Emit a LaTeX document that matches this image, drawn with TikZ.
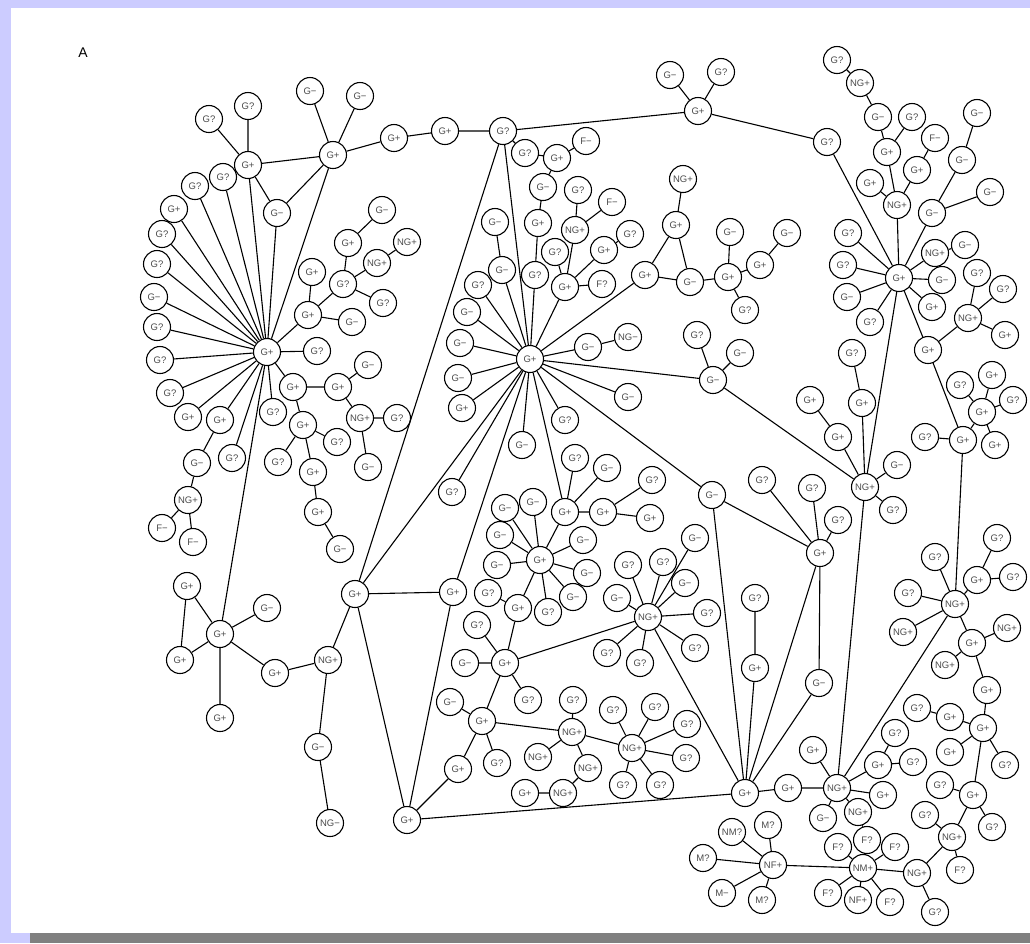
\documentclass[tikz,border=0pt]{standalone}
\usepackage{fontspec}
\setmainfont{Liberation Sans}
\usepackage{tikz}
\definecolor{frame}{RGB}{204,204,255}
\definecolor{bar}{RGB}{128,128,128}

\begin{document}
\begin{tikzpicture}[x=1pt,y=-1pt,
  cell/.style={circle,draw,line width=1.1pt,minimum size=27pt,inner sep=0pt,
    font=\fontsize{9.5}{10}\selectfont,text=black!70},
  link/.style={line width=1.1pt}]
  \useasboundingbox (0,0) rectangle (1030,943);
  \fill[frame] (0,0) rectangle (1030,943);
  \fill[white] (11,8) rectangle (1030,933);
  \fill[bar] (30,933) rectangle (1030,943);
  \node[font=\fontsize{14}{14}\selectfont] (panel) at (83,53) {A};
  % left top
  \node[cell] (a1) at (248,165) {G+};
  \node[cell] (a2) at (333,155) {G+};
  \node[cell] (a3) at (209,119) {G?};
  \node[cell] (a4) at (248,106) {G?};
  \node[cell] (a5) at (310,91) {G−};
  \node[cell] (a6) at (360,96) {G−};
  \node[cell] (a7) at (277,213) {G−};
  \node[cell] (a8) at (394,138) {G+};
  \node[cell] (a9) at (445,131) {G+};
  \node[cell] (hB) at (503,131) {G?};
  % left hub
  \node[cell] (hC) at (267,352) {G+};
  \node[cell] (c1) at (174,209) {G+};
  \node[cell] (c2) at (195,186) {G?};
  \node[cell] (c3) at (223,177) {G?};
  \node[cell] (c4) at (162,234) {G?};
  \node[cell] (c5) at (157,264) {G?};
  \node[cell] (c6) at (154,297) {G−};
  \node[cell] (c7) at (157,327) {G?};
  \node[cell] (c8) at (160,360) {G?};
  \node[cell] (c9) at (170,393) {G?};
  \node[cell] (c10) at (188,417) {G+};
  \node[cell] (c11) at (220,420) {G+};
  \node[cell] (c12) at (232,458) {G?};
  \node[cell] (c13) at (317,351) {G?};
  \node[cell] (c14) at (273,412) {G?};
  \node[cell] (c15) at (308,315) {G+};
  \node[cell] (c16) at (352,322) {G−};
  \node[cell] (c17) at (343,284) {G?};
  \node[cell] (c18) at (312,272) {G+};
  \node[cell] (c19) at (348,243) {G+};
  \node[cell] (c20) at (382,210) {G−};
  \node[cell] (c21) at (377,263) {NG+};
  \node[cell] (c22) at (407,242) {NG+};
  \node[cell] (c23) at (383,303) {G?};
  \node[cell] (c24) at (293,387) {G+};
  \node[cell] (c25) at (338,387) {G+};
  \node[cell] (c26) at (368,365) {G−};
  \node[cell] (c27) at (360,418) {NG+};
  \node[cell] (c28) at (397,418) {G?};
  \node[cell] (c29) at (368,467) {G−};
  \node[cell] (c30) at (303,425) {G+};
  \node[cell] (c31) at (337,442) {G?};
  \node[cell] (c32) at (278,462) {G?};
  \node[cell] (c33) at (313,472) {G+};
  \node[cell] (c34) at (318,512) {G+};
  \node[cell] (c35) at (340,549) {G−};
  \node[cell] (c36) at (197,463) {G−};
  \node[cell] (c37) at (188,500) {NG+};
  \node[cell] (c38) at (162,528) {F−};
  \node[cell] (c39) at (193,542) {F−};
  % left bottom
  \node[cell] (hL) at (220,634) {G+};
  \node[cell] (l1) at (187,586) {G+};
  \node[cell] (l2) at (180,660) {G+};
  \node[cell] (l3) at (267,608) {G−};
  \node[cell] (l4) at (275,673) {G+};
  \node[cell] (l5) at (220,718) {G+};
  \node[cell] (l6) at (328,660) {NG+};
  \node[cell] (l7) at (318,747) {G−};
  \node[cell] (l8) at (330,823) {NG−};
  \node[cell] (m1) at (355,594) {G+};
  \node[cell] (m2) at (453,592) {G+};
  \node[cell] (m3) at (407,820) {G+};
  \node[cell] (m4) at (458,769) {G+};
  % centre hub
  \node[cell] (hD) at (530,359) {G+};
  \node[cell] (d1) at (467,312) {G−};
  \node[cell] (d2) at (460,343) {G−};
  \node[cell] (d3) at (458,378) {G−};
  \node[cell] (d4) at (462,408) {G+};
  \node[cell] (d5) at (588,347) {G−};
  \node[cell] (d6) at (628,337) {NG−};
  \node[cell] (d7) at (628,397) {G−};
  \node[cell] (d8) at (565,420) {G?};
  \node[cell] (d9) at (522,445) {G−};
  \node[cell] (d10) at (452,492) {G?};
  \node[cell] (d11) at (478,285) {G?};
  \node[cell] (d12) at (502,270) {G−};
  \node[cell] (d13) at (495,222) {G−};
  \node[cell] (d14) at (535,275) {G?};
  \node[cell] (d15) at (538,223) {G+};
  \node[cell] (d16) at (543,187) {G−};
  \node[cell] (d17) at (557,158) {G+};
  \node[cell] (d18) at (525,153) {G?};
  \node[cell] (d19) at (586,141) {F−};
  \node[cell] (d20) at (565,287) {G+};
  \node[cell] (d21) at (602,284) {F?};
  \node[cell] (d22) at (575,230) {NG+};
  \node[cell] (d23) at (578,190) {G?};
  \node[cell] (d24) at (612,202) {F−};
  \node[cell] (d25) at (555,252) {G?};
  \node[cell] (d26) at (604,250) {G+};
  \node[cell] (d27) at (630,234) {G?};
  \node[cell] (d28) at (645,275) {G+};
  \node[cell] (d29) at (676,225) {G+};
  \node[cell] (d30) at (683,179) {NG+};
  \node[cell] (d31) at (690,282) {G−};
  \node[cell] (d32) at (728,277) {G+};
  \node[cell] (d33) at (730,232) {G−};
  \node[cell] (d34) at (760,265) {G+};
  \node[cell] (d35) at (787,233) {G−};
  \node[cell] (d36) at (745,310) {G?};
  \node[cell] (e0) at (713,380) {G−};
  \node[cell] (e1) at (697,335) {G?};
  \node[cell] (e2) at (740,353) {G−};
  % right top
  \node[cell] (t0) at (698,111) {G+};
  \node[cell] (t1) at (670,75) {G−};
  \node[cell] (t2) at (721,72) {G?};
  \node[cell] (r1) at (827,142) {G?};
  \node[cell] (hE) at (899,278) {G+};
  \node[cell] (r2) at (837,60) {G?};
  \node[cell] (r3) at (860,83) {NG+};
  \node[cell] (r4) at (878,117) {G−};
  \node[cell] (r5) at (887,152) {G+};
  \node[cell] (r6) at (912,117) {G?};
  \node[cell] (r7) at (897,205) {NG+};
  \node[cell] (r8) at (935,138) {F−};
  \node[cell] (r9) at (917,170) {G+};
  \node[cell] (r10) at (870,183) {G+};
  \node[cell] (r11) at (977,113) {G−};
  \node[cell] (r12) at (962,160) {G−};
  \node[cell] (r13) at (932,213) {G−};
  \node[cell] (r14) at (990,192) {G−};
  \node[cell] (r15) at (935,253) {NG+};
  \node[cell] (r16) at (965,245) {G−};
  \node[cell] (r17) at (942,280) {G−};
  \node[cell] (r18) at (848,233) {G?};
  \node[cell] (r19) at (843,265) {G?};
  \node[cell] (r20) at (847,297) {G−};
  \node[cell] (r21) at (870,322) {G?};
  \node[cell] (r22) at (932,307) {G+};
  \node[cell] (r23) at (977,273) {G?};
  \node[cell] (r24) at (1003,289) {G?};
  \node[cell] (r25) at (968,318) {NG+};
  \node[cell] (r26) at (1005,335) {G+};
  \node[cell] (r27) at (928,350) {G+};
  \node[cell] (q0) at (963,440) {G+};
  \node[cell] (q1) at (925,437) {G?};
  \node[cell] (q2) at (982,412) {G+};
  \node[cell] (q3) at (960,385) {G?};
  \node[cell] (q4) at (992,375) {G+};
  \node[cell] (q5) at (1013,400) {G?};
  \node[cell] (q6) at (995,445) {G+};
  \node[cell] (n0) at (865,487) {NG+};
  \node[cell] (n1) at (862,403) {G+};
  \node[cell] (n2) at (852,353) {G?};
  \node[cell] (n3) at (838,437) {G+};
  \node[cell] (n4) at (810,400) {G+};
  \node[cell] (n5) at (897,465) {G−};
  \node[cell] (n6) at (893,510) {G?};
  % right middle
  \node[cell] (hH) at (820,553) {G+};
  \node[cell] (h1) at (838,520) {G?};
  \node[cell] (h2) at (812,488) {G?};
  \node[cell] (h3) at (762,480) {G?};
  \node[cell] (h4) at (712,495) {G−};
  \node[cell] (h5) at (819,683) {G−};
  \node[cell] (h6) at (755,598) {G?};
  \node[cell] (h7) at (755,668) {G+};
  \node[cell] (p0) at (955,604) {NG+};
  \node[cell] (p1) at (908,593) {G?};
  \node[cell] (p2) at (935,557) {G?};
  \node[cell] (p3) at (903,632) {NG+};
  \node[cell] (p4) at (977,580) {G+};
  \node[cell] (p5) at (972,643) {G+};
  \node[cell] (p6) at (997,538) {G?};
  \node[cell] (p7) at (1013,577) {G?};
  \node[cell] (p8) at (1007,628) {NG+};
  \node[cell] (p9) at (945,665) {NG+};
  % right bottom
  \node[cell] (s11) at (987,690) {G+};
  \node[cell] (s6) at (983,728) {G+};
  \node[cell] (s9) at (950,717) {G+};
  \node[cell] (s10) at (917,708) {G?};
  \node[cell] (s7) at (950,752) {G+};
  \node[cell] (s8) at (1005,765) {G?};
  \node[cell] (s3) at (973,795) {G+};
  \node[cell] (s4) at (940,785) {G?};
  \node[cell] (s5) at (992,827) {G?};
  \node[cell] (s0) at (952,837) {NG+};
  \node[cell] (s1) at (925,815) {G?};
  \node[cell] (s2) at (960,870) {F?};
  \node[cell] (g16) at (917,873) {NG+};
  \node[cell] (g17) at (935,912) {G?};
  \node[cell] (hG) at (745,793) {G+};
  \node[cell] (g1) at (788,788) {G+};
  \node[cell] (g2) at (837,788) {NG+};
  \node[cell] (g3) at (813,750) {G+};
  \node[cell] (g4) at (878,765) {G+};
  \node[cell] (g5) at (895,733) {G?};
  \node[cell] (g6) at (913,762) {G?};
  \node[cell] (g7) at (883,795) {G+};
  \node[cell] (g8) at (823,818) {G−};
  \node[cell] (g9) at (858,812) {NG+};
  \node[cell] (g10) at (867,840) {F?};
  \node[cell] (g11) at (838,847) {F?};
  \node[cell] (g12) at (895,847) {F?};
  \node[cell] (nm) at (863,868) {NM+};
  \node[cell] (g13) at (828,893) {F?};
  \node[cell] (g14) at (858,900) {NF+};
  \node[cell] (g15) at (890,902) {F?};
  \node[cell] (nf) at (773,865) {NF+};
  \node[cell] (f1) at (768,825) {M?};
  \node[cell] (f2) at (732,832) {NM?};
  \node[cell] (f3) at (703,858) {M?};
  \node[cell] (f4) at (722,893) {M−};
  \node[cell] (f5) at (762,900) {M?};
  % middle
  \node[cell] (hF) at (540,560) {G+};
  \node[cell] (u1) at (505,508) {G−};
  \node[cell] (u2) at (533,502) {G−};
  \node[cell] (u3) at (565,512) {G+};
  \node[cell] (u4) at (575,458) {G?};
  \node[cell] (u5) at (607,468) {G−};
  \node[cell] (u6) at (603,512) {G+};
  \node[cell] (u7) at (652,480) {G?};
  \node[cell] (u8) at (650,518) {G+};
  \node[cell] (u9) at (500,535) {G−};
  \node[cell] (u10) at (497,565) {G−};
  \node[cell] (u11) at (583,540) {G−};
  \node[cell] (u12) at (587,573) {G−};
  \node[cell] (u13) at (573,597) {G−};
  \node[cell] (u14) at (548,612) {G?};
  \node[cell] (u15) at (518,608) {G+};
  \node[cell] (u16) at (488,593) {G?};
  \node[cell] (v0) at (505,663) {G+};
  \node[cell] (v1) at (477,625) {G?};
  \node[cell] (v2) at (465,663) {G−};
  \node[cell] (v3) at (528,700) {G?};
  \node[cell] (v4) at (482,721) {G+};
  \node[cell] (v5) at (450,702) {G−};
  \node[cell] (v6) at (497,763) {G?};
  \node[cell] (w0) at (572,732) {NG+};
  \node[cell] (w1) at (573,700) {G?};
  \node[cell] (w2) at (538,757) {NG+};
  \node[cell] (w3) at (588,768) {NG+};
  \node[cell] (w4) at (632,748) {NG+};
  \node[cell] (w5) at (563,793) {NG+};
  \node[cell] (w6) at (525,793) {G+};
  \node[cell] (x1) at (613,710) {G?};
  \node[cell] (x2) at (655,707) {G?};
  \node[cell] (x3) at (687,724) {G?};
  \node[cell] (x4) at (686,758) {G?};
  \node[cell] (x5) at (623,785) {G?};
  \node[cell] (x6) at (660,785) {G?};
  \node[cell] (k0) at (648,617) {NG+};
  \node[cell] (k1) at (628,565) {G?};
  \node[cell] (k2) at (663,562) {G?};
  \node[cell] (k3) at (685,583) {G−};
  \node[cell] (k4) at (695,538) {G−};
  \node[cell] (k5) at (617,598) {G−};
  \node[cell] (k6) at (707,613) {G?};
  \node[cell] (k7) at (695,648) {G?};
  \node[cell] (k8) at (640,663) {G?};
  \node[cell] (k9) at (607,653) {G?};
  % links
  \draw[link] (a1) -- (a3) (a1) -- (a4) (a1) -- (a2) (a1) -- (a7) (a1) -- (hC);
  \draw[link] (a2) -- (a5) (a2) -- (a6) (a2) -- (a8) (a2) -- (a7) (a2) -- (hC) (a7) -- (hC);
  \draw[link] (a8) -- (a9) (a9) -- (hB);
  \draw[link] (hB) -- (d18) (hB) -- (t0) (hB) -- (m1) (hB) -- (hD);
  \draw[link] (hC) -- (c1) (hC) -- (c2) (hC) -- (c3) (hC) -- (c4) (hC) -- (c5) (hC) -- (c6)
    (hC) -- (c7) (hC) -- (c8) (hC) -- (c9) (hC) -- (c10) (hC) -- (c11) (hC) -- (c12)
    (hC) -- (c13) (hC) -- (c14) (hC) -- (c15) (hC) -- (c24) (hC) -- (hL);
  \draw[link] (c15) -- (c18) (c15) -- (c17) (c15) -- (c16) (c17) -- (c19) (c17) -- (c21)
    (c17) -- (c23) (c19) -- (c20) (c21) -- (c22);
  \draw[link] (c24) -- (c25) (c24) -- (c30) (c25) -- (c26) (c25) -- (c27) (c27) -- (c28)
    (c27) -- (c29) (c30) -- (c31) (c30) -- (c32) (c30) -- (c33) (c33) -- (c34) (c34) -- (c35);
  \draw[link] (c11) -- (c36) (c36) -- (c37) (c37) -- (c38) (c37) -- (c39);
  \draw[link] (hL) -- (l1) (hL) -- (l2) (hL) -- (l3) (hL) -- (l4) (hL) -- (l5) (l1) -- (l2)
    (l4) -- (l6) (l6) -- (l7) (l7) -- (l8) (l6) -- (m1);
  \draw[link] (m1) -- (m2) (m1) -- (m3) (m1) -- (hD) (m2) -- (hD) (m2) -- (m3) (m3) -- (m4) (m3) -- (hG);
  \draw[link] (hD) -- (d1) (hD) -- (d2) (hD) -- (d3) (hD) -- (d4) (hD) -- (d5) (hD) -- (d7)
    (hD) -- (d8) (hD) -- (d9) (hD) -- (d10) (hD) -- (d11) (hD) -- (d12) (hD) -- (d14)
    (hD) -- (d20) (hD) -- (d28) (hD) -- (e0) (hD) -- (h4) (hD) -- (u3);
  \draw[link] (d5) -- (d6) (d12) -- (d13) (d14) -- (d15) (d15) -- (d16) (d16) -- (d17)
    (d17) -- (d18) (d17) -- (d19);
  \draw[link] (d20) -- (d21) (d20) -- (d22) (d20) -- (d25) (d20) -- (d26) (d22) -- (d23)
    (d22) -- (d24) (d26) -- (d27);
  \draw[link] (d28) -- (d29) (d28) -- (d31) (d29) -- (d30) (d29) -- (d31) (d31) -- (d32)
    (d32) -- (d33) (d32) -- (d34) (d32) -- (d36) (d34) -- (d35);
  \draw[link] (e0) -- (e1) (e0) -- (e2) (e0) -- (n0);
  \draw[link] (t0) -- (t1) (t0) -- (t2) (t0) -- (r1) (r1) -- (hE);
  \draw[link] (r2) -- (r3) (r3) -- (r4) (r4) -- (r5) (r6) -- (r5) (r5) -- (r7) (r8) -- (r9)
    (r9) -- (r7) (r10) -- (r7) (r7) -- (hE);
  \draw[link] (r11) -- (r12) (r12) -- (r13) (r14) -- (r13) (r13) -- (hE);
  \draw[link] (r15) -- (r16) (r15) -- (hE) (r17) -- (hE) (r18) -- (hE) (r19) -- (hE)
    (r20) -- (hE) (r21) -- (hE) (r22) -- (hE);
  \draw[link] (r23) -- (r25) (r24) -- (r25) (r26) -- (r25) (r27) -- (r25) (r27) -- (hE);
  \draw[link] (r27) -- (q0) (q0) -- (q1) (q0) -- (q2) (q2) -- (q3) (q2) -- (q4) (q2) -- (q5)
    (q2) -- (q6) (q0) -- (p0);
  \draw[link] (hE) -- (n0) (n0) -- (n1) (n0) -- (n3) (n0) -- (n5) (n0) -- (n6) (n0) -- (g2)
    (n1) -- (n2) (n3) -- (n4);
  \draw[link] (hH) -- (h1) (hH) -- (h2) (hH) -- (h3) (hH) -- (h4) (hH) -- (h5) (hH) -- (hG)
    (h4) -- (hG) (h5) -- (hG) (h6) -- (h7) (h7) -- (hG);
  \draw[link] (p0) -- (p1) (p0) -- (p2) (p0) -- (p3) (p0) -- (p4) (p0) -- (p5) (p0) -- (g2)
    (p4) -- (p6) (p4) -- (p7) (p5) -- (p8) (p5) -- (p9) (p5) -- (s11);
  \draw[link] (s11) -- (s6) (s6) -- (s7) (s6) -- (s8) (s6) -- (s9) (s9) -- (s10) (s6) -- (s3)
    (s3) -- (s4) (s3) -- (s5) (s3) -- (s0) (s0) -- (s1) (s0) -- (s2) (s0) -- (g16)
    (g16) -- (g17) (g16) -- (nm);
  \draw[link] (hG) -- (g1) (g1) -- (g2) (g2) -- (g3) (g2) -- (g4) (g4) -- (g5) (g4) -- (g6)
    (g2) -- (g7) (g2) -- (g8) (g2) -- (g9) (g9) -- (g10) (g10) -- (nm);
  \draw[link] (nm) -- (g11) (nm) -- (g12) (nm) -- (g13) (nm) -- (g14) (nm) -- (g15) (nm) -- (nf);
  \draw[link] (nf) -- (f1) (nf) -- (f2) (nf) -- (f3) (nf) -- (f4) (nf) -- (f5);
  \draw[link] (hG) -- (k0);
  \draw[link] (hF) -- (u1) (hF) -- (u2) (hF) -- (u3) (hF) -- (u9) (hF) -- (u10) (hF) -- (u11)
    (hF) -- (u12) (hF) -- (u13) (hF) -- (u14) (hF) -- (u15);
  \draw[link] (u3) -- (u4) (u3) -- (u5) (u3) -- (u6) (u6) -- (u7) (u6) -- (u8)
    (u15) -- (u16) (u15) -- (v0);
  \draw[link] (v0) -- (v1) (v0) -- (v2) (v0) -- (v3) (v0) -- (v4) (v0) -- (k0);
  \draw[link] (v4) -- (v5) (v4) -- (m4) (v4) -- (v6) (v4) -- (w0);
  \draw[link] (w0) -- (w1) (w0) -- (w2) (w0) -- (w3) (w0) -- (w4) (w3) -- (w5) (w5) -- (w6);
  \draw[link] (w4) -- (x1) (w4) -- (x2) (w4) -- (x3) (w4) -- (x4) (w4) -- (x5) (w4) -- (x6);
  \draw[link] (k0) -- (k1) (k0) -- (k2) (k0) -- (k3) (k0) -- (k4) (k0) -- (k5) (k0) -- (k6)
    (k0) -- (k7) (k0) -- (k8) (k0) -- (k9);
\end{tikzpicture}
\end{document}
